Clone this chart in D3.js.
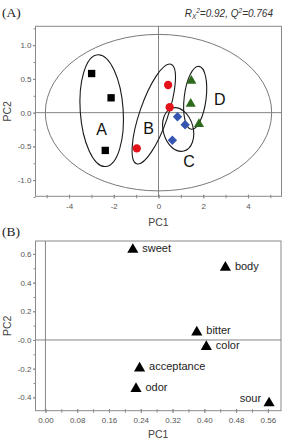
<!DOCTYPE html>
<html><head><meta charset="utf-8">
<script src="https://cdn.jsdelivr.net/npm/d3@7"></script>
<style>
html,body{margin:0;padding:0;background:#fff;}
svg{display:block;font-family:Arial,"Liberation Sans",sans-serif;}
</style></head>
<body>
<script>
// ---------- DATA ----------
// Panel A: PCA scores
const groupA_pc1 = [-2.99, -2.12, -2.38];   // squares
const groupA_pc2 = [0.58, 0.22, -0.56];
const groupB_pc1 = [0.43, 0.50, -0.97];     // circles
const groupB_pc2 = [0.41, 0.08, -0.53];
const groupC_pc1 = [0.85, 1.19, 0.62];      // diamonds
const groupC_pc2 = [-0.06, -0.18, -0.41];
const groupD_pc1 = [1.47, 1.44, 1.81];      // triangles
const groupD_pc2 = [0.47, 0.13, -0.17];
const groupNames = ["A", "B", "C", "D"];
const xTicksA = [-4, -2, 0, 2, 4];
const yTicksA = [-1.0, -0.5, 0.0, 0.5, 1.0];
const yTickLabelsA = ["-1.0", "-0.5", "0.0", "0.5", "1.0"];
// Panel B: loadings
const attributes = ["sweet", "body", "bitter", "color", "acceptance", "odor", "sour"];
const loadPC1 = [0.220, 0.453, 0.381, 0.405, 0.237, 0.228, 0.563];
const loadPC2 = [0.630, 0.505, 0.054, -0.047, -0.197, -0.340, -0.440];
const xTicksB = [0.00, 0.08, 0.16, 0.24, 0.32, 0.40, 0.48, 0.56];
const xTickLabelsB = ["0.00", "0.08", "0.16", "0.24", "0.32", "0.40", "0.48", "0.56"];
const yTicksB = [-0.4, -0.2, 0.0, 0.2, 0.4, 0.6];
const yTickLabelsB = ["-0.4", "-0.2", "-0.0", "0.2", "0.4", "0.6"];

// ---------- SETUP ----------
const W = 284, H = 439;
const svg = d3.select("body").append("svg").attr("width", W).attr("height", H);
const tickCol = "#555", frameCol = "#8a8a8a";

function frameAxes(g, x, y, xt, xtl, xMinor, yt, ytl, yMinor, xLabelY, yLabelX) {
  const [x0, x1] = x.range(), [y0, y1] = y.range();
  g.append("g").attr("transform", `translate(0,${y0})`)
    .call(d3.axisBottom(x).tickValues(xMinor).tickSize(2).tickFormat(""))
    .call(a => a.select(".domain").remove())
    .call(a => a.selectAll("line").attr("stroke", frameCol).attr("y1", -1.5));
  g.append("g").attr("transform", `translate(${x0},0)`)
    .call(d3.axisLeft(y).tickValues(yMinor).tickSize(2).tickFormat(""))
    .call(a => a.select(".domain").remove())
    .call(a => a.selectAll("line").attr("stroke", frameCol));
  g.append("g").attr("transform", `translate(0,${y0})`)
    .call(d3.axisBottom(x).tickValues(xt).tickSize(2).tickPadding(5).tickFormat((d, i) => xtl[i]))
    .call(a => a.select(".domain").remove())
    .call(a => a.selectAll("line").attr("stroke", frameCol).attr("y1", -1.5))
    .call(a => a.selectAll("text").attr("fill", tickCol).attr("font-size", 8));
  g.append("g").attr("transform", `translate(${x0},0)`)
    .call(d3.axisLeft(y).tickValues(yt).tickSize(2.5).tickPadding(1.5).tickFormat((d, i) => ytl[i]))
    .call(a => a.select(".domain").remove())
    .call(a => a.selectAll("line").attr("stroke", frameCol))
    .call(a => a.selectAll("text").attr("fill", tickCol).attr("font-size", 8));
  g.append("rect").attr("x", x0).attr("y", y1).attr("width", x1 - x0).attr("height", y0 - y1)
    .attr("fill", "none").attr("stroke", frameCol).attr("stroke-width", 1);
  g.append("line").attr("x1", x(0)).attr("x2", x(0)).attr("y1", y1).attr("y2", y0)
    .attr("stroke", "#777").attr("stroke-width", 0.9);
  g.append("line").attr("x1", x0).attr("x2", x1).attr("y1", y(0)).attr("y2", y(0))
    .attr("stroke", "#777").attr("stroke-width", 0.9);
  g.append("text").attr("x", (x0 + x1) / 2).attr("y", xLabelY).attr("text-anchor", "middle")
    .attr("font-size", 10.5).attr("fill", "#444").text("PC1");
  g.append("text").attr("transform", `translate(${yLabelX},${(y0 + y1) / 2}) rotate(-90)`)
    .attr("text-anchor", "middle").attr("font-size", 10.5).attr("fill", "#444").text("PC2");
}

// ---------- PANEL A ----------
const xA = d3.scaleLinear().domain([-5.5, 5.5]).range([35.5, 281.5]);
const yA = d3.scaleLinear().domain([-1.24, 1.28]).range([196.3, 26.3]);
const gA = svg.append("g");

gA.append("ellipse").attr("cx", xA(0)).attr("cy", yA(0))
  .attr("rx", xA(5.06) - xA(0)).attr("ry", yA(0) - yA(1.16))
  .attr("fill", "none").attr("stroke", "#6a6a6a").attr("stroke-width", 0.9);

frameAxes(gA, xA, yA, xTicksA, xTicksA.map(String), d3.range(-5, 6, 1), yTicksA, yTickLabelsA,
  d3.range(-1.25, 1.26, 0.25), 226, 11);

// group ellipses: center (data units), semi-axes (data units of x / y), rotation (deg)
const groupEllipses = [
  {cx: -2.54, cy: 0.03, rx: 0.96, ry: 0.83, rot: -4},
  {cx: -0.21, cy: -0.02, rx: 0.63, ry: 0.78, rot: 19},
  {cx: 0.88, cy: -0.25, rx: 0.67, ry: 0.33, rot: -15},
  {cx: 1.64, cy: 0.22, rx: 0.49, ry: 0.47, rot: 7}
];
const kx = xA(1) - xA(0), ky = yA(0) - yA(1);
gA.selectAll(".grp").data(groupEllipses).join("ellipse")
  .attr("transform", d => `translate(${xA(d.cx)},${yA(d.cy)}) rotate(${d.rot})`)
  .attr("rx", d => d.rx * kx).attr("ry", d => d.ry * ky)
  .attr("fill", "none").attr("stroke", "#1a1a1a").attr("stroke-width", 1.1);

const labelPos = [{x: -2.54, y: -0.25}, {x: -0.44, y: -0.24}, {x: 1.37, y: -0.72}, {x: 2.74, y: 0.19}];
gA.selectAll(".glab").data(groupNames).join("text")
  .attr("x", (d, i) => xA(labelPos[i].x)).attr("y", (d, i) => yA(labelPos[i].y) + 5.5)
  .attr("text-anchor", "middle").attr("font-size", 16).attr("fill", "#111").text(d => d);

function pts(xs, ys) { return xs.map((v, i) => [v, ys[i]]); }
gA.selectAll(".sq").data(pts(groupA_pc1, groupA_pc2)).join("path")
  .attr("transform", d => `translate(${xA(d[0])},${yA(d[1])})`)
  .attr("d", d3.symbol().type(d3.symbolSquare).size(54)()).attr("fill", "#000");
gA.selectAll(".ci").data(pts(groupB_pc1, groupB_pc2)).join("path")
  .attr("transform", d => `translate(${xA(d[0])},${yA(d[1])})`)
  .attr("d", d3.symbol().type(d3.symbolCircle).size(54)()).attr("fill", "#e3121b");
gA.selectAll(".di").data(pts(groupC_pc1, groupC_pc2)).join("path")
  .attr("transform", d => `translate(${xA(d[0])},${yA(d[1])}) rotate(45)`)
  .attr("d", d3.symbol().type(d3.symbolSquare).size(44)()).attr("fill", "#3555b0");
gA.selectAll(".tr").data(pts(groupD_pc1, groupD_pc2)).join("path")
  .attr("transform", d => `translate(${xA(d[0])},${yA(d[1])})`)
  .attr("d", d3.symbol().type(d3.symbolTriangle).size(44)()).attr("fill", "#2e6a1c");

svg.append("text").attr("x", 2).attr("y", 17).attr("font-family", "'Liberation Serif','Times New Roman',serif")
  .attr("font-size", 13.5).attr("fill", "#222").text("(A)");
const rt = svg.append("text").attr("x", 273).attr("y", 17).attr("text-anchor", "end")
  .attr("font-size", 10).attr("font-style", "italic").attr("fill", "#333");
rt.append("tspan").text("R");
rt.append("tspan").attr("font-size", 6.5).attr("dy", 2).text("X");
rt.append("tspan").attr("font-size", 6.5).attr("dy", -6).text("2");
rt.append("tspan").attr("dy", 4).text("=0.92, Q");
rt.append("tspan").attr("font-size", 6.5).attr("dy", -4).text("2");
rt.append("tspan").attr("dy", 4).text("=0.764");

// ---------- PANEL B ----------
const xB = d3.scaleLinear().domain([-0.025, 0.593]).range([35.5, 281]);
const yB = d3.scaleLinear().domain([-0.493, 0.69]).range([410.7, 241]);
const gB = svg.append("g");
frameAxes(gB, xB, yB, xTicksB, xTickLabelsB, d3.range(0, 0.5801, 0.04), yTicksB, yTickLabelsB,
  d3.range(-0.4, 0.6501, 0.1), 437.5, 11);

svg.append("text").attr("x", 2).attr("y", 236).attr("font-family", "'Liberation Serif','Times New Roman',serif")
  .attr("font-size", 13.5).attr("fill", "#222").text("(B)");

const loadings = attributes.map((a, i) => ({a, x: loadPC1[i], y: loadPC2[i]}));
gB.selectAll(".lt").data(loadings).join("path")
  .attr("transform", d => `translate(${xB(d.x)},${yB(d.y)})`)
  .attr("d", d3.symbol().type(d3.symbolTriangle).size(54)()).attr("fill", "#000");
gB.selectAll(".ll").data(loadings).join("text")
  .attr("x", d => d.a === "sour" ? xB(d.x) - 8 : xB(d.x) + 9.5)
  .attr("y", d => d.a === "sour" ? yB(d.y) - 1.5 : yB(d.y) + 2)
  .attr("text-anchor", d => d.a === "sour" ? "end" : "start")
  .attr("font-size", 11).attr("fill", "#222").text(d => d.a);
</script>
</body></html>
